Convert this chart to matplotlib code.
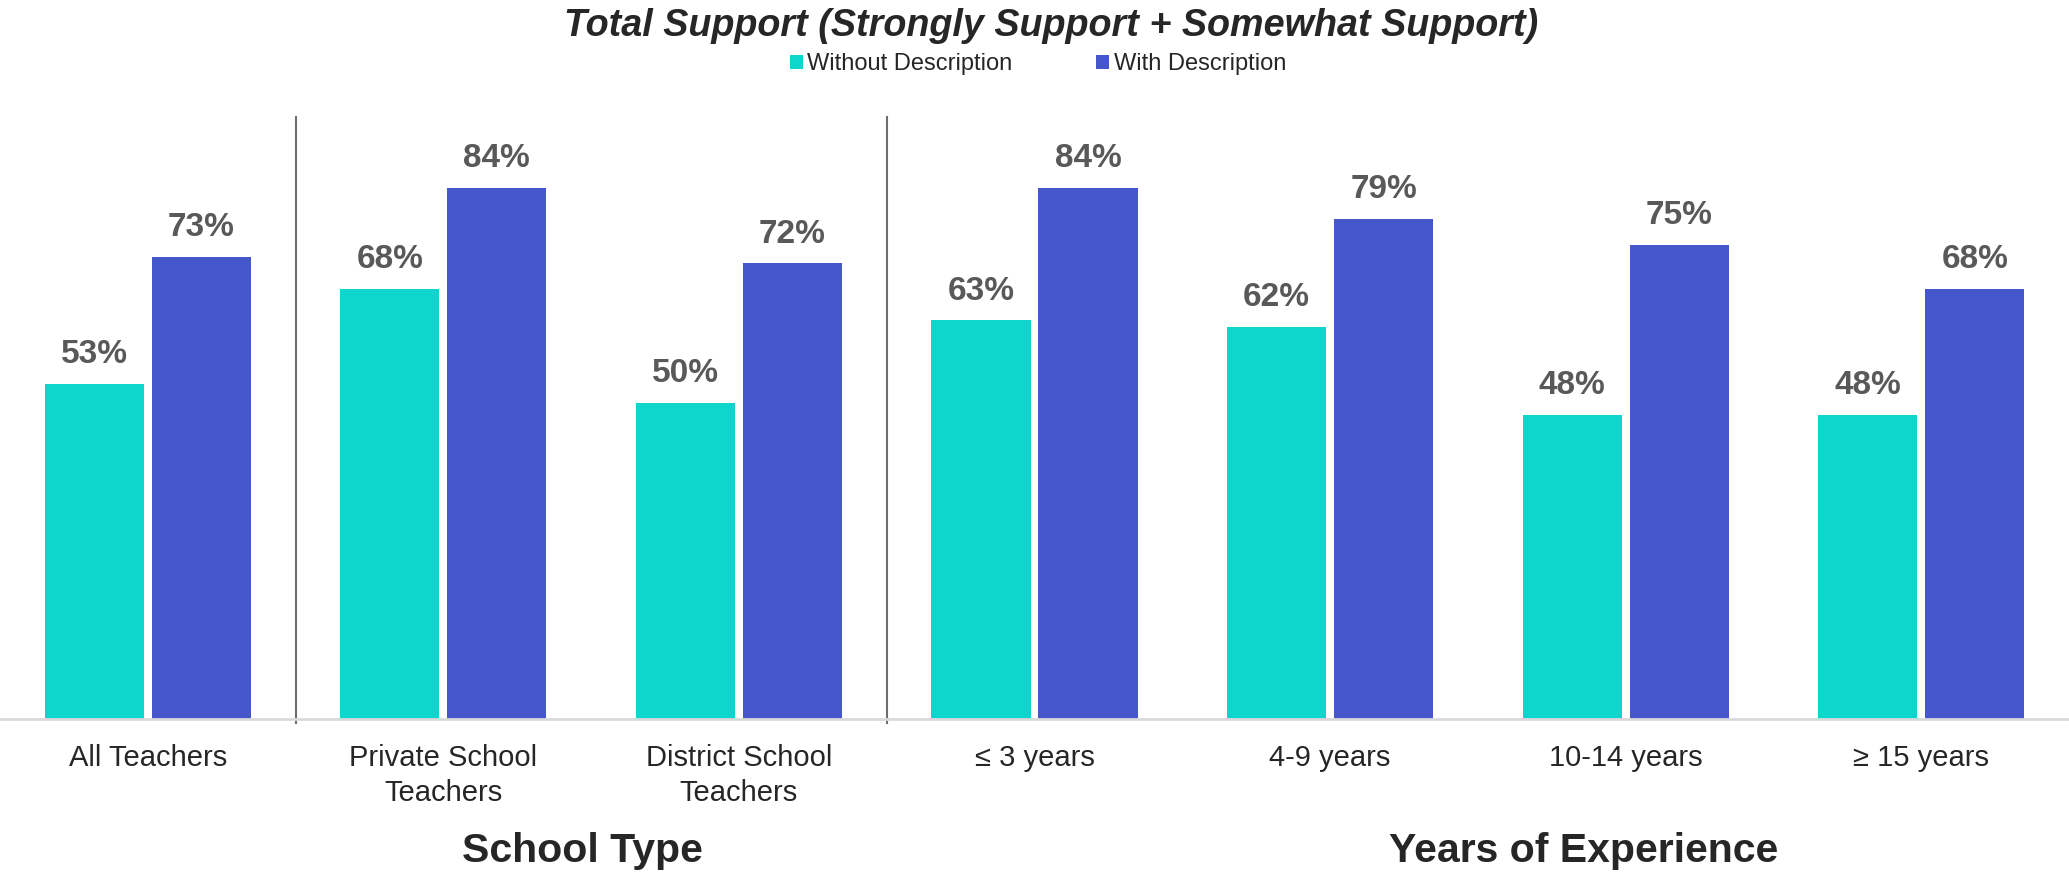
import numpy as np
import matplotlib
matplotlib.use("Agg")
from matplotlib import pyplot as plt

plt.rcParams['font.family'] = ['Liberation Sans', 'DejaVu Sans']

categories = ['All Teachers', 'Private School\nTeachers', 'District School\nTeachers',
              '\u2264 3 years', '4-9 years', '10-14 years', '\u2265 15 years']
without_desc = [53, 68, 50, 63, 62, 48, 48]
with_desc = [73, 84, 72, 84, 79, 75, 68]
series_names = ['Without Description', 'With Description']
group_titles = ['School Type', 'Years of Experience']

teal = '#0fd6cc'
blue = '#4657cc'

fig = plt.figure(figsize=(20.69, 8.72), dpi=100)
ax = fig.add_axes([0, 0.1755, 1, 0.8647 - 0.1755])

x = np.arange(len(categories))
w = 0.335
off = 0.181
b1 = ax.bar(x - off, without_desc, w, color=teal, label=series_names[0])
b2 = ax.bar(x + off, with_desc, w, color=blue, label=series_names[1])

for bars, vals in [(b1, without_desc), (b2, with_desc)]:
    for rect, v in zip(bars, vals):
        ax.annotate(f'{v}%', (rect.get_x() + rect.get_width() / 2, v),
                    xytext=(0, 10), textcoords='offset points',
                    ha='center', va='bottom', fontsize=24,
                    fontweight='bold', color='#595959')

ax.set_xlim(-0.5, len(categories) - 0.5)
ax.set_ylim(0, 95)
ax.set_xticks(x)
ax.set_xticklabels(categories, fontsize=21, color='#262626', linespacing=1.3)
ax.tick_params(axis='x', length=0, pad=18)
ax.set_yticks([])
for s in ['top', 'right', 'left']:
    ax.spines[s].set_visible(False)
ax.spines['bottom'].set_color('#d9d9d9')
ax.spines['bottom'].set_linewidth(2)

# section dividers
for xd in [0.5, 2.5]:
    ax.plot([xd, xd], [-0.7, 95.2], color='#6e6e6e', lw=1.5, clip_on=False)

# group titles under the axis
fig.text((148 + 1.47 * 295.6) / 2069, 1 - 862 / 872, group_titles[0],
         ha='center', va='baseline', fontsize=29.5, fontweight='bold', color='#262626')
fig.text((148 + 4.855 * 295.6) / 2069, 1 - 862 / 872, group_titles[1],
         ha='center', va='baseline', fontsize=29.5, fontweight='bold', color='#262626')

fig.text(0.508, 1 - 36 / 872, 'Total Support (Strongly Support + Somewhat Support)',
         ha='center', va='baseline', fontsize=27.2, fontweight='bold',
         fontstyle='italic', color='#262626')

fig.legend(handles=[b1, b2], loc='center', bbox_to_anchor=(1038 / 2069, 1 - 64 / 872),
           ncol=2, frameon=False, fontsize=17, handlelength=0.55, handleheight=0.55,
           handletextpad=0.2, columnspacing=3.55, borderpad=0, labelcolor='#262626')

fig.savefig('out.png', dpi=100)
